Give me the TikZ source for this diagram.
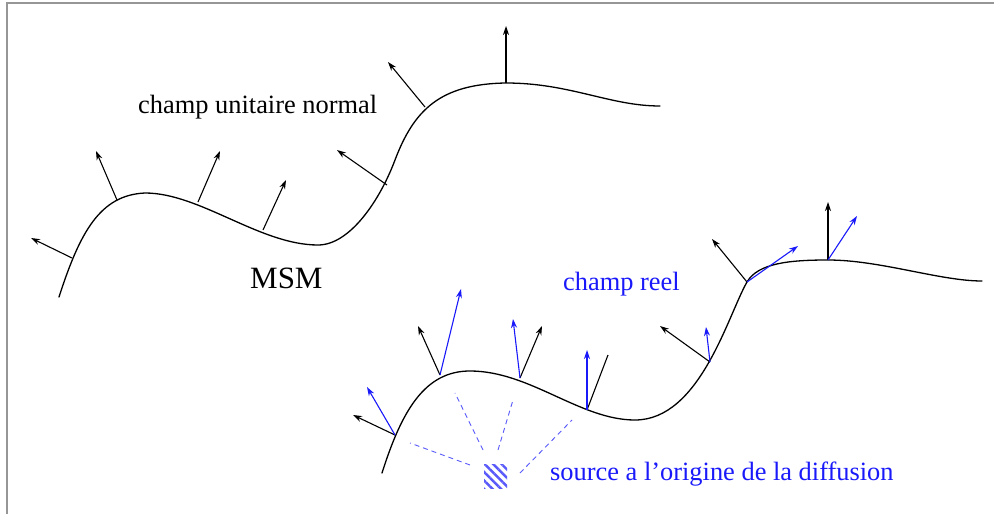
\documentclass[tikz,border=0pt]{standalone}
\usepackage{fontspec}
\setmainfont{Liberation Serif}
\usetikzlibrary{arrows.meta,patterns.meta}
\definecolor{myblue}{RGB}{25,25,250}
\definecolor{raycol}{RGB}{90,90,250}
\definecolor{framegray}{RGB}{150,150,150}
\begin{document}
\begin{tikzpicture}[x=1pt,y=-1pt,
  curve/.style={line width=1.3pt, black, line cap=round},
  narrow/.style={line width=1.1pt, -{Stealth[length=9pt,width=6pt]}},
  barrow/.style={narrow, myblue},
  bline/.style={line width=1.1pt},
  ray/.style={raycol, line width=0.9pt, dash pattern=on 5pt off 4pt},
  lbl/.style={anchor=base west, inner sep=0pt, font=\fontsize{26.4}{30}\selectfont},
]
\useasboundingbox (0,0) rectangle (994,514);
% frame (only top and left edges visible)
\draw[framegray, line width=2pt] (7,514) -- (7,3) -- (994,3);

% ---------- upper surface (MSM) ----------
\draw[curve] (59,297) .. controls (80,232) and (100,195) .. (145,193)
  .. controls (200,193) and (260,245) .. (318,245)
  .. controls (350,245) and (380,200) .. (395,160)
  .. controls (414,110) and (440,84) .. (506,83)
  .. controls (570,83) and (610,106) .. (660,106);

% normal field arrows (upper)
\coordinate (u1) at (72,258);  \coordinate (u1t) at (31,238);
\coordinate (u2) at (117,200); \coordinate (u2t) at (96,151);
\coordinate (u3) at (198,202); \coordinate (u3t) at (220,151);
\coordinate (u4) at (263,230); \coordinate (u4t) at (286,180);
\coordinate (u5) at (387,185); \coordinate (u5t) at (337,150);
\coordinate (u6) at (425,107); \coordinate (u6t) at (388,62);
\coordinate (u7) at (506,83);  \coordinate (u7t) at (506,26);
\foreach \i in {1,...,7} \draw[narrow] (u\i) -- (u\i t);

\node[lbl] (tnorm) at (138,113) {champ unitaire normal};
\node[anchor=base west, inner sep=0pt, font=\fontsize{31}{35}\selectfont] (tmsm) at (250,288) {MSM};

% ---------- lower surface ----------
\draw[curve] (382,473) .. controls (402,410) and (425,371) .. (470,371)
  .. controls (530,371) and (580,420) .. (635,420)
  .. controls (700,420) and (728,315) .. (747,282)
  .. controls (758,263) and (790,260) .. (828,260)
  .. controls (880,260) and (940,281) .. (982,281);

\coordinate (l1) at (395,435); \coordinate (l1k) at (353,415); \coordinate (l1b) at (367,387);
\coordinate (l2) at (440,375); \coordinate (l2k) at (418,326); \coordinate (l2b) at (461,289);
\coordinate (l3) at (520,378); \coordinate (l3k) at (542,326); \coordinate (l3b) at (513,319);
\coordinate (l4) at (587,410); \coordinate (l4k) at (608,355); \coordinate (l4b) at (587,350);
\coordinate (l5) at (710,362); \coordinate (l5k) at (660,326); \coordinate (l5b) at (706,327);
\coordinate (l6) at (747,282); \coordinate (l6k) at (712,239); \coordinate (l6b) at (798,246);
\coordinate (l7) at (828,260); \coordinate (l7k) at (828,202); \coordinate (l7b) at (857,216);

\foreach \i in {1,2,3,5,6,7} \draw[narrow] (l\i) -- (l\i k);
\draw[bline] (l4) -- (l4k);
\foreach \i in {1,...,7} \draw[barrow] (l\i) -- (l\i b);

% source and rays
\fill[pattern={Lines[angle=-45,distance=6pt,line width=2.4pt]}, pattern color=raycol]
  (484,464) rectangle (507,488);
\coordinate (src) at (495,476);
\draw[ray] (470,465) -- (410,443);
\draw[ray] (483,450) -- (455,393);
\draw[ray] (498,450) -- (513,400);
\draw[ray] (520,473) -- (572,420);

\node[lbl, text=myblue] (treel) at (563,290) {champ reel};
\node[lbl, text=myblue] (tsrc) at (550,480) {source a l’origine de la diffusion};
\end{tikzpicture}
\end{document}
